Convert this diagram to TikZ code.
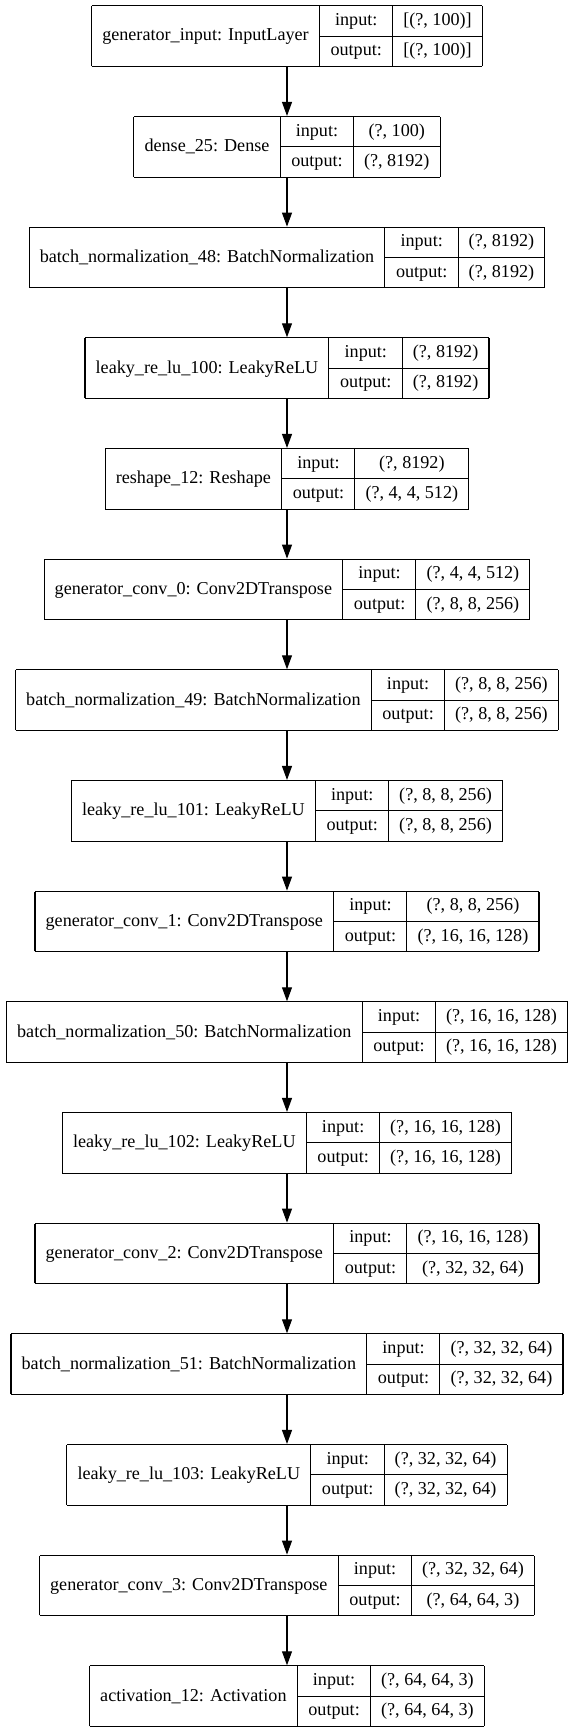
\documentclass[tikz,border=0pt]{standalone}
\usepackage{fontspec}
\setmainfont{Liberation Serif}
\usetikzlibrary{arrows.meta}

\newcommand{\lyfont}{\fontsize{13.6pt}{16pt}\selectfont}
\newcommand{\lystrut}{\rule[-7.6pt]{0pt}{22pt}}
\setlength{\arrayrulewidth}{0.8pt}
\setlength{\tabcolsep}{8pt}
\renewcommand{\arraystretch}{0}

\tikzset{
    layer/.style={inner sep=0pt, outer sep=0pt, font=\lyfont},
    flow/.style={line width=0.8pt, -{Triangle[length=10.5pt, width=7.5pt]}}
}

% one layer as a record: name | {input: | output:} | {shape | shape}
\newcommand{\layer}[5]{%
    \pgfmathsetmacro{\lyy}{-(27.15+83.0*(#2-1))}%
    \node[layer] (#1) at (215.25pt,\lyy pt) {%
        \begin{tabular}{|c|@{}c@{}|}\hline
            #3 &
            \begin{tabular}{c|c}
                \lystrut input: & #4 \\ \hline
                \lystrut output: & #5
            \end{tabular} \\ \hline
        \end{tabular}};
}

\begin{document}
\begin{tikzpicture}
    \useasboundingbox (0,0) rectangle (431.25pt,-1299.75pt);

    % Layers, top to bottom
    \layer{input}{1}{generator\_input: InputLayer}{[(?, 100)]}{[(?, 100)]}
    \layer{dense}{2}{dense\_25: Dense}{(?, 100)}{(?, 8192)}
    \layer{bn48}{3}{batch\_normalization\_48: BatchNormalization}{(?, 8192)}{(?, 8192)}
    \layer{lrelu100}{4}{leaky\_re\_lu\_100: LeakyReLU}{(?, 8192)}{(?, 8192)}
    \layer{reshape}{5}{reshape\_12: Reshape}{(?, 8192)}{(?, 4, 4, 512)}
    \layer{conv0}{6}{generator\_conv\_0: Conv2DTranspose}{(?, 4, 4, 512)}{(?, 8, 8, 256)}
    \layer{bn49}{7}{batch\_normalization\_49: BatchNormalization}{(?, 8, 8, 256)}{(?, 8, 8, 256)}
    \layer{lrelu101}{8}{leaky\_re\_lu\_101: LeakyReLU}{(?, 8, 8, 256)}{(?, 8, 8, 256)}
    \layer{conv1}{9}{generator\_conv\_1: Conv2DTranspose}{(?, 8, 8, 256)}{(?, 16, 16, 128)}
    \layer{bn50}{10}{batch\_normalization\_50: BatchNormalization}{(?, 16, 16, 128)}{(?, 16, 16, 128)}
    \layer{lrelu102}{11}{leaky\_re\_lu\_102: LeakyReLU}{(?, 16, 16, 128)}{(?, 16, 16, 128)}
    \layer{conv2}{12}{generator\_conv\_2: Conv2DTranspose}{(?, 16, 16, 128)}{(?, 32, 32, 64)}
    \layer{bn51}{13}{batch\_normalization\_51: BatchNormalization}{(?, 32, 32, 64)}{(?, 32, 32, 64)}
    \layer{lrelu103}{14}{leaky\_re\_lu\_103: LeakyReLU}{(?, 32, 32, 64)}{(?, 32, 32, 64)}
    \layer{conv3}{15}{generator\_conv\_3: Conv2DTranspose}{(?, 32, 32, 64)}{(?, 64, 64, 3)}
    \layer{act}{16}{activation\_12: Activation}{(?, 64, 64, 3)}{(?, 64, 64, 3)}

    % Connections
    \foreach \a/\b in {input/dense, dense/bn48, bn48/lrelu100, lrelu100/reshape,
        reshape/conv0, conv0/bn49, bn49/lrelu101, lrelu101/conv1, conv1/bn50,
        bn50/lrelu102, lrelu102/conv2, conv2/bn51, bn51/lrelu103,
        lrelu103/conv3, conv3/act} {
        \draw[flow] (\a) -- (\b);
    }
\end{tikzpicture}
\end{document}
